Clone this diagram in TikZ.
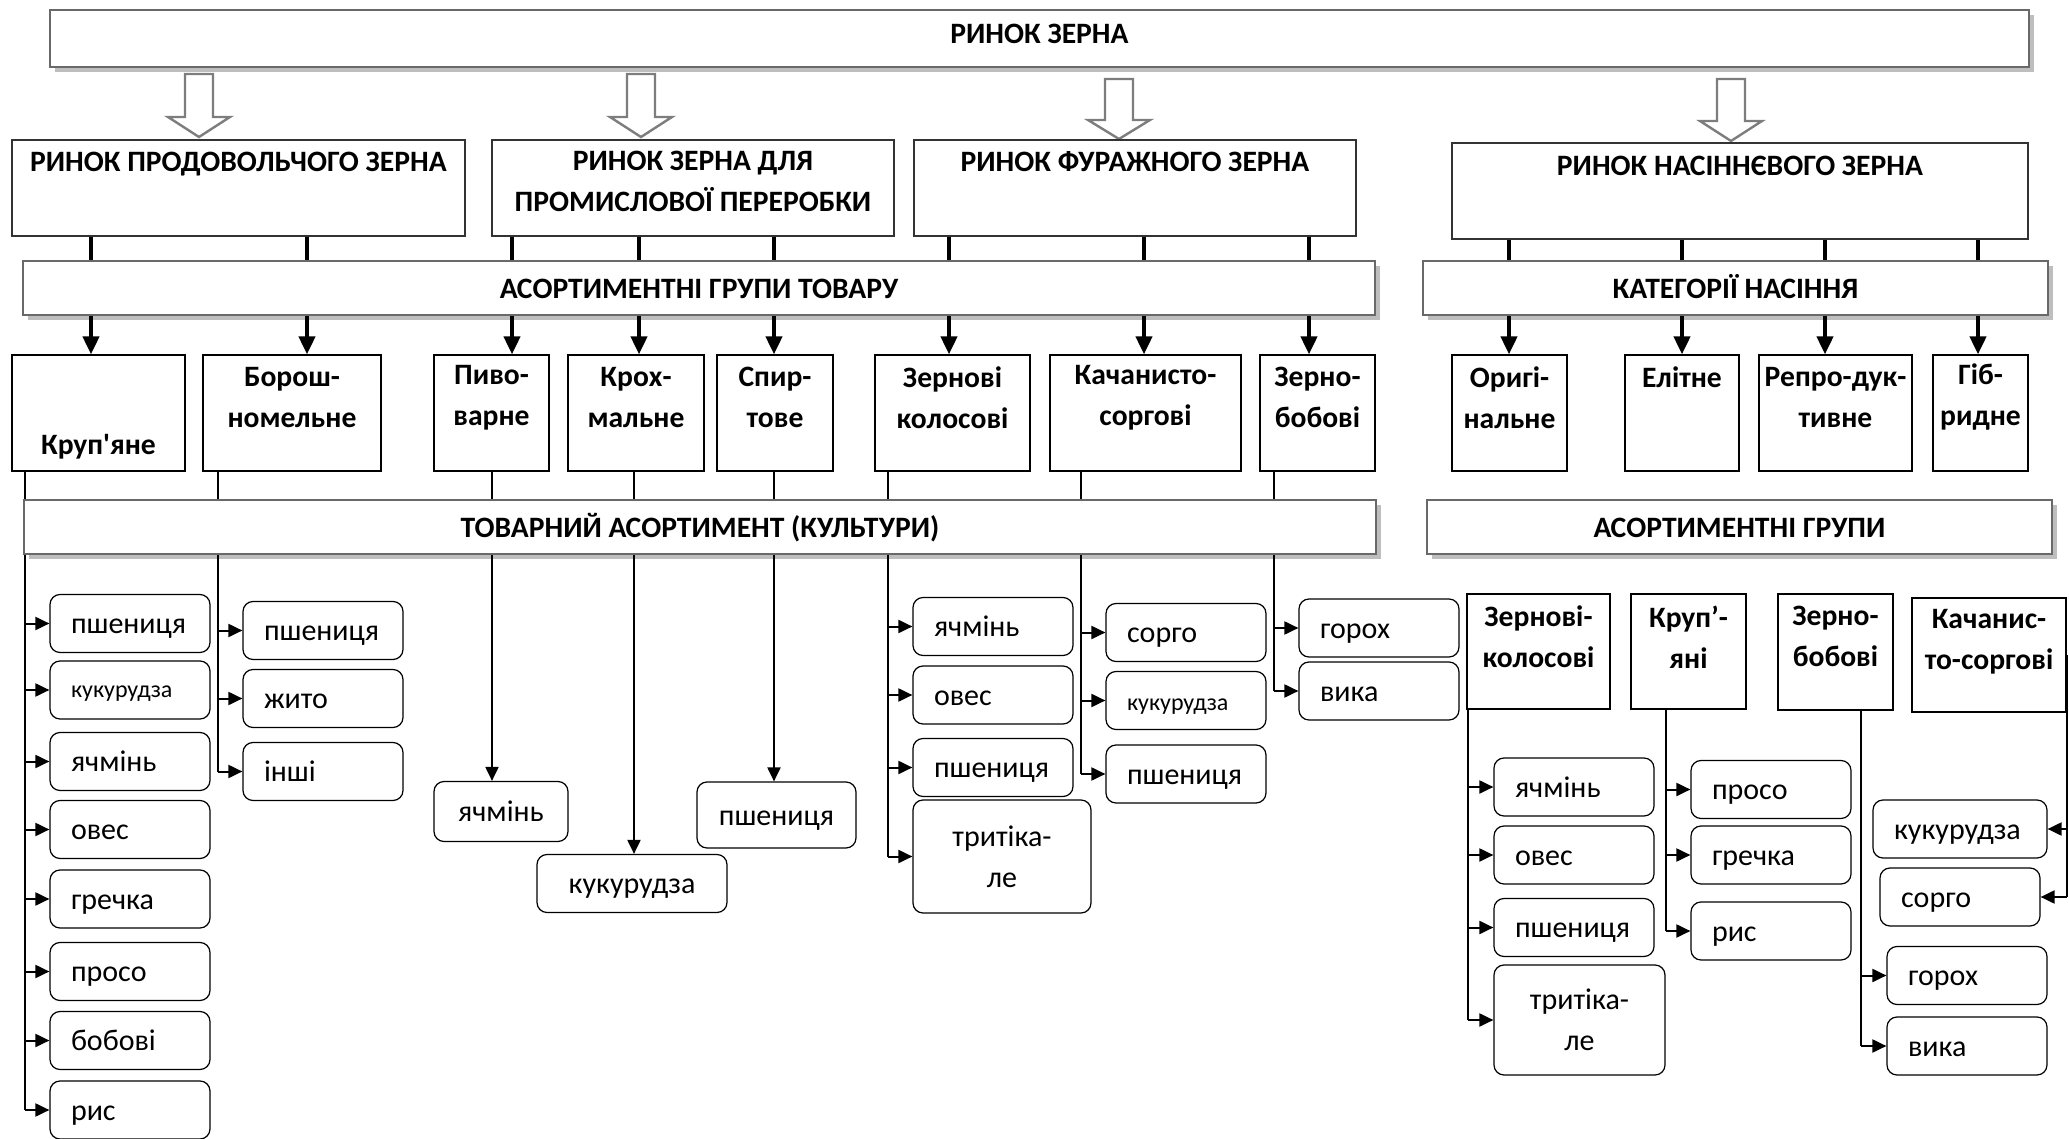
\documentclass[tikz,border=0pt]{standalone}
\usepackage{fontspec}
\setmainfont{Carlito}
\usetikzlibrary{arrows.meta,shadows}

\definecolor{barline}{RGB}{105,105,105}
\definecolor{barshade}{RGB}{190,190,190}
\definecolor{blockgray}{RGB}{125,125,125}

\tikzset{
  bar/.style={draw=barline,line width=1.3pt,fill=white,
    general shadow={fill=barshade,shadow xshift=2.5pt,shadow yshift=-2.5pt},
    text height=10.5pt,text depth=0pt,
    font=\bfseries\fontsize{14.8}{20.5}\selectfont},
  mkbox/.style={draw=black!80,line width=0.6pt},
  grpbox/.style={draw,line width=0.6pt},
  headtxt/.style={font=\bfseries\fontsize{14.8}{20.5}\selectfont,align=center,inner sep=0pt},
  croptwo/.style={draw,rounded corners=5pt,line width=0.6pt,minimum height=29pt,
    inner xsep=10.5pt,text width=#1,align=center,font=\fontsize{15}{20.5}\selectfont},
  crop/.style={croptwo=#1,align=left,text height=12.5pt,text depth=2.5pt},
  crop/.default=59pt,
  blockarr/.style={draw=blockgray,line width=1.2pt,fill=white},
  thickln/.style={line width=2pt},
  bigarr/.style={line width=2pt,-{Triangle[length=9pt,width=8pt]}},
  thinln/.style={line width=0.6pt},
  midln/.style={line width=1pt},
  midarr/.style={line width=1pt,-{Triangle[length=7pt,width=6.5pt]}},
  smallarr/.style={line width=1pt,-{Triangle[length=7pt,width=6.5pt]}},
}

\begin{document}
\begin{tikzpicture}[x=0.5pt,y=-0.5pt]
    \useasboundingbox (0,0) rectangle (2069,1139);

    % whole market
    \node[bar,text height=9.3pt,text depth=4pt,minimum width=989.5pt,minimum height=28.5pt] (zerno) at (1039.5,38.5) {РИНОК ЗЕРНА};

    \draw[blockarr] (185,74) -- (213,74) -- (213,117) -- (230,117) -- (199,137) -- (168,117) -- (185,117) -- cycle;
    \draw[blockarr] (627,74) -- (655,74) -- (655,117) -- (672,117) -- (641,137) -- (610,117) -- (627,117) -- cycle;
    \draw[blockarr] (1105,79) -- (1133,79) -- (1133,120) -- (1150,120) -- (1119,139) -- (1088,120) -- (1105,120) -- cycle;
    \draw[blockarr] (1717,79) -- (1745,79) -- (1745,121) -- (1762,121) -- (1731,141) -- (1700,121) -- (1717,121) -- cycle;

    % market segments
    \node[mkbox,minimum width=226.5pt,minimum height=48pt] (prod) at (238.5,188) {};
    \node[mkbox,minimum width=201pt,minimum height=48pt] (prom) at (693,188) {};
    \node[mkbox,minimum width=221pt,minimum height=48pt] (fur) at (1135,188) {};
    \node[mkbox,minimum width=288pt,minimum height=48pt] (nas) at (1740,191) {};
    \node[headtxt] (prodt) at ([yshift=-12.5pt]prod.north) {РИНОК ПРОДОВОЛЬЧОГО ЗЕРНА};
    \node[headtxt] (promt) at ([yshift=-21pt]prom.north) {РИНОК ЗЕРНА ДЛЯ\\ПРОМИСЛОВОЇ ПЕРЕРОБКИ};
    \node[headtxt] (furt) at ([yshift=-11pt]fur.north) {РИНОК ФУРАЖНОГО ЗЕРНА};
    \node[headtxt] (nast) at ([yshift=-11.5pt]nas.north) {РИНОК НАСІННЄВОГО ЗЕРНА};

    \node[bar,minimum width=676pt,minimum height=27pt] (asort) at (699,288) {АСОРТИМЕНТНІ ГРУПИ ТОВАРУ};
    \node[bar,minimum width=312.5pt,minimum height=27pt] (kateg) at (1735.5,288) {КАТЕГОРІЇ НАСІННЯ};

    % groups of goods
    \node[grpbox,minimum width=86.5pt,minimum height=58pt] (krup) at (98.5,413) {};
    \node[grpbox,minimum width=89pt,minimum height=58pt] (bor) at (292,413) {};
    \node[grpbox,minimum width=57.5pt,minimum height=58pt] (pyv) at (491.5,413) {};
    \node[grpbox,minimum width=68pt,minimum height=58pt] (kroh) at (636,413) {};
    \node[grpbox,minimum width=58pt,minimum height=58pt] (spyr) at (775,413) {};
    \node[grpbox,minimum width=77.5pt,minimum height=58pt] (zkol) at (952.5,413) {};
    \node[grpbox,minimum width=95.5pt,minimum height=58pt] (kach) at (1145.5,413) {};
    \node[grpbox,minimum width=57.5pt,minimum height=58pt] (zbob) at (1317.5,413) {};
    \node[grpbox,minimum width=57.5pt,minimum height=58pt] (orig) at (1509.5,413) {};
    \node[grpbox,minimum width=57pt,minimum height=58pt] (elit) at (1682,413) {};
    \node[grpbox,minimum width=76.5pt,minimum height=58pt] (repr) at (1835.5,413) {};
    \node[grpbox,minimum width=47.5pt,minimum height=58pt] (gibr) at (1980.5,413) {};
    \node[headtxt] (krupt) at ([yshift=-46pt]krup.north) {Круп\textquotesingle яне};
    \node[headtxt] (bort) at ([yshift=-21.5pt]bor.north) {Борош-\\номельне};
    \node[headtxt] (pyvt) at ([yshift=-21.5pt]pyv.north) {Пиво-\\варне};
    \node[headtxt] (kroht) at ([yshift=-21.5pt]kroh.north) {Крох-\\мальне};
    \node[headtxt] (spyrt) at ([yshift=-21.5pt]spyr.north) {Спир-\\тове};
    \node[headtxt] (zkolt) at ([yshift=-21.5pt]zkol.north) {Зернові\\колосові};
    \node[headtxt] (kacht) at ([yshift=-21.5pt]kach.north) {Качанисто-\\соргові};
    \node[headtxt] (zbobt) at ([yshift=-21.5pt]zbob.north) {Зерно-\\бобові};
    \node[headtxt] (origt) at ([yshift=-21.5pt]orig.north) {Оригі-\\нальне};
    \node[headtxt] (elitt) at ([yshift=-11.5pt]elit.north) {Елітне};
    \node[headtxt] (reprt) at ([yshift=-21.5pt]repr.north) {Репро-дук-\\тивне};
    \node[headtxt] (gibrt) at ([yshift=-21.5pt]gibr.north) {Гіб-\\ридне};

    \coordinate (g1) at (91,0);
    \coordinate (g2) at (307,0);
    \coordinate (g3) at (512,0);
    \coordinate (g4) at (639,0);
    \coordinate (g5) at (774,0);
    \coordinate (g6) at (949,0);
    \coordinate (g7) at (1144,0);
    \coordinate (g8) at (1309,0);
    \coordinate (s1) at (1509,0);
    \coordinate (s2) at (1682,0);
    \coordinate (s3) at (1825,0);
    \coordinate (s4) at (1978,0);

    \draw[thickln] (g1 |- prod.south) -- (g1 |- asort.north);
    \draw[thickln] (g2 |- prod.south) -- (g2 |- asort.north);
    \draw[thickln] (g3 |- prom.south) -- (g3 |- asort.north);
    \draw[thickln] (g4 |- prom.south) -- (g4 |- asort.north);
    \draw[thickln] (g5 |- prom.south) -- (g5 |- asort.north);
    \draw[thickln] (g6 |- fur.south) -- (g6 |- asort.north);
    \draw[thickln] (g7 |- fur.south) -- (g7 |- asort.north);
    \draw[thickln] (g8 |- fur.south) -- (g8 |- asort.north);
    \draw[thickln] (s1 |- nas.south) -- (s1 |- kateg.north);
    \draw[thickln] (s2 |- nas.south) -- (s2 |- kateg.north);
    \draw[thickln] (s3 |- nas.south) -- (s3 |- kateg.north);
    \draw[thickln] (s4 |- nas.south) -- (s4 |- kateg.north);

    \draw[bigarr] (g1 |- asort.south) -- (g1 |- krup.north);
    \draw[bigarr] (g2 |- asort.south) -- (g2 |- bor.north);
    \draw[bigarr] (g3 |- asort.south) -- (g3 |- pyv.north);
    \draw[bigarr] (g4 |- asort.south) -- (g4 |- kroh.north);
    \draw[bigarr] (g5 |- asort.south) -- (g5 |- spyr.north);
    \draw[bigarr] (g6 |- asort.south) -- (g6 |- zkol.north);
    \draw[bigarr] (g7 |- asort.south) -- (g7 |- kach.north);
    \draw[bigarr] (g8 |- asort.south) -- (g8 |- zbob.north);
    \draw[bigarr] (s1 |- kateg.south) -- (s1 |- orig.north);
    \draw[bigarr] (s2 |- kateg.south) -- (s2 |- elit.north);
    \draw[bigarr] (s3 |- kateg.south) -- (s3 |- repr.north);
    \draw[bigarr] (s4 |- kateg.south) -- (s4 |- gibr.north);

    % assortment
    \node[bar,minimum width=676pt,minimum height=27pt] (tovar) at (700,527) {ТОВАРНИЙ АСОРТИМЕНТ (КУЛЬТУРИ)};
    \node[bar,minimum width=312.5pt,minimum height=27pt] (asgr) at (1739.5,527) {АСОРТИМЕНТНІ ГРУПИ};

    \coordinate (t1) at (25,0);
    \coordinate (t2) at (218,0);
    \coordinate (t3) at (492,0);
    \coordinate (t4) at (634,0);
    \coordinate (t5) at (774,0);
    \coordinate (t6) at (888,0);
    \coordinate (t7) at (1081,0);
    \coordinate (t8) at (1274,0);
    \draw[thinln] (t1 |- krup.south) -- (t1 |- tovar.north);
    \draw[thinln] (t2 |- bor.south) -- (t2 |- tovar.north);
    \draw[thinln] (t3 |- pyv.south) -- (t3 |- tovar.north);
    \draw[thinln] (t4 |- kroh.south) -- (t4 |- tovar.north);
    \draw[thinln] (t5 |- spyr.south) -- (t5 |- tovar.north);
    \draw[thinln] (t6 |- zkol.south) -- (t6 |- tovar.north);
    \draw[thinln] (t7 |- kach.south) -- (t7 |- tovar.north);
    \draw[thinln] (t8 |- zbob.south) -- (t8 |- tovar.north);

    \node[crop] (kr1) at (130,623.5) {пшениця};
    \node[crop,text height=9.5pt,font=\fontsize{12}{14}\selectfont] (kr2) at (130,690) {кукурудза};
    \node[crop] (kr3) at (130,761.5) {ячмінь};
    \node[crop] (kr4) at (130,829.5) {овес};
    \node[crop] (kr5) at (130,899) {гречка};
    \node[crop] (kr6) at (130,971.5) {просо};
    \node[crop] (kr7) at (130,1040.5) {бобові};
    \node[crop] (kr8) at (130,1110) {рис};

    \node[crop] (bor1) at (323,630.5) {пшениця};
    \node[crop] (bor2) at (323,698.5) {жито};
    \node[crop] (bor3) at (323,771.5) {інші};

    \node[crop=46pt,align=center,minimum height=30pt] (pyv1) at (501,811.5) {ячмінь};
    \node[crop=74pt,align=center] (kroh1) at (632,883.5) {кукурудза};
    \node[crop=58.5pt,align=center,minimum height=33pt] (spyr1) at (776.5,815) {пшениця};

    \node[crop] (zk1) at (993,626.5) {ячмінь};
    \node[crop] (zk2) at (993,695) {овес};
    \node[crop] (zk3) at (993,767.5) {пшениця};
    \node[croptwo=68pt,minimum height=56.5pt] (zk4) at (1002,856.5) {тритіка-\\ле};

    \node[crop] (kc1) at (1186,632.5) {сорго};
    \node[crop,font=\fontsize{12}{14}\selectfont] (kc2) at (1186,700.5) {кукурудза};
    \node[crop] (kc3) at (1186,774) {пшениця};

    \node[crop] (zb1) at (1379,628) {горох};
    \node[crop] (zb2) at (1379,691) {вика};

    \draw[midln] (t1 |- tovar.south) -- (t1 |- kr8.west);
    \draw[smallarr] (t1 |- kr1.west) -- (kr1.west);
    \draw[smallarr] (t1 |- kr2.west) -- (kr2.west);
    \draw[smallarr] (t1 |- kr3.west) -- (kr3.west);
    \draw[smallarr] (t1 |- kr4.west) -- (kr4.west);
    \draw[smallarr] (t1 |- kr5.west) -- (kr5.west);
    \draw[smallarr] (t1 |- kr6.west) -- (kr6.west);
    \draw[smallarr] (t1 |- kr7.west) -- (kr7.west);
    \draw[smallarr] (t1 |- kr8.west) -- (kr8.west);
    \draw[midln] (t2 |- tovar.south) -- (t2 |- bor3.west);
    \draw[smallarr] (t2 |- bor1.west) -- (bor1.west);
    \draw[smallarr] (t2 |- bor2.west) -- (bor2.west);
    \draw[smallarr] (t2 |- bor3.west) -- (bor3.west);
    \draw[midarr] (t3 |- tovar.south) -- (t3 |- pyv1.north);
    \draw[midarr] (t4 |- tovar.south) -- (t4 |- kroh1.north);
    \draw[midarr] (t5 |- tovar.south) -- (t5 |- spyr1.north);
    \draw[midln] (t6 |- tovar.south) -- (t6 |- zk4.west);
    \draw[smallarr] (t6 |- zk1.west) -- (zk1.west);
    \draw[smallarr] (t6 |- zk2.west) -- (zk2.west);
    \draw[smallarr] (t6 |- zk3.west) -- (zk3.west);
    \draw[smallarr] (t6 |- zk4.west) -- (zk4.west);
    \draw[midln] (t7 |- tovar.south) -- (t7 |- kc3.west);
    \draw[smallarr] (t7 |- kc1.west) -- (kc1.west);
    \draw[smallarr] (t7 |- kc2.west) -- (kc2.west);
    \draw[smallarr] (t7 |- kc3.west) -- (kc3.west);
    \draw[midln] (t8 |- tovar.south) -- (t8 |- zb2.west);
    \draw[smallarr] (t8 |- zb1.west) -- (zb1.west);
    \draw[smallarr] (t8 |- zb2.west) -- (zb2.west);

    % seed groups
    \node[grpbox,minimum width=71.5pt,minimum height=57.5pt] (szkol) at (1538.5,651.5) {};
    \node[grpbox,minimum width=57.5pt,minimum height=57.5pt] (skrup) at (1688.5,651.5) {};
    \node[grpbox,minimum width=57.5pt,minimum height=58pt] (szbob) at (1835.5,652) {};
    \node[grpbox,minimum width=77pt,minimum height=57pt] (skach) at (1989,655) {};
    \node[headtxt] (szkolt) at ([yshift=-21.75pt]szkol.north) {Зернові-\\колосові};
    \node[headtxt] (skrupt) at ([yshift=-21.75pt]skrup.north) {Круп’-\\яні};
    \node[headtxt] (szbobt) at ([yshift=-21.75pt]szbob.north) {Зерно-\\бобові};
    \node[headtxt] (skacht) at ([yshift=-22pt]skach.north) {Качанис-\\то-соргові};

    \node[crop] (szk1) at (1574,787) {ячмінь};
    \node[crop] (szk2) at (1574,855) {овес};
    \node[crop] (szk3) at (1574,927.5) {пшениця};
    \node[croptwo=64.5pt,minimum height=55pt] (szk4) at (1579.5,1020) {тритіка-\\ле};

    \node[crop] (skr1) at (1771,789.5) {просо};
    \node[crop] (skr2) at (1771,855) {гречка};
    \node[crop] (skr3) at (1771,931) {рис};

    \node[crop] (szb1) at (1967,975.5) {горох};
    \node[crop] (szb2) at (1967,1046) {вика};

    \node[crop=66pt] (sku) at (1960,829) {кукурудза};
    \node[crop] (sso) at (1960,897) {сорго};

    \coordinate (r1) at (1468,0);
    \coordinate (r2) at (1666,0);
    \coordinate (r3) at (1861,0);
    \draw[midln] (r1 |- szkol.south) -- (r1 |- szk4.west);
    \draw[smallarr] (r1 |- szk1.west) -- (szk1.west);
    \draw[smallarr] (r1 |- szk2.west) -- (szk2.west);
    \draw[smallarr] (r1 |- szk3.west) -- (szk3.west);
    \draw[smallarr] (r1 |- szk4.west) -- (szk4.west);
    \draw[midln] (r2 |- skrup.south) -- (r2 |- skr3.west);
    \draw[smallarr] (r2 |- skr1.west) -- (skr1.west);
    \draw[smallarr] (r2 |- skr2.west) -- (skr2.west);
    \draw[smallarr] (r2 |- skr3.west) -- (skr3.west);
    \draw[midln] (r3 |- szbob.south) -- (r3 |- szb2.west);
    \draw[smallarr] (r3 |- szb1.west) -- (szb1.west);
    \draw[smallarr] (r3 |- szb2.west) -- (szb2.west);
    \draw[midln] (skach.east) -- (skach.east |- sso.east);
    \draw[smallarr] (skach.east |- sku.east) -- (sku.east);
    \draw[smallarr] (skach.east |- sso.east) -- (sso.east);
\end{tikzpicture}
\end{document}
